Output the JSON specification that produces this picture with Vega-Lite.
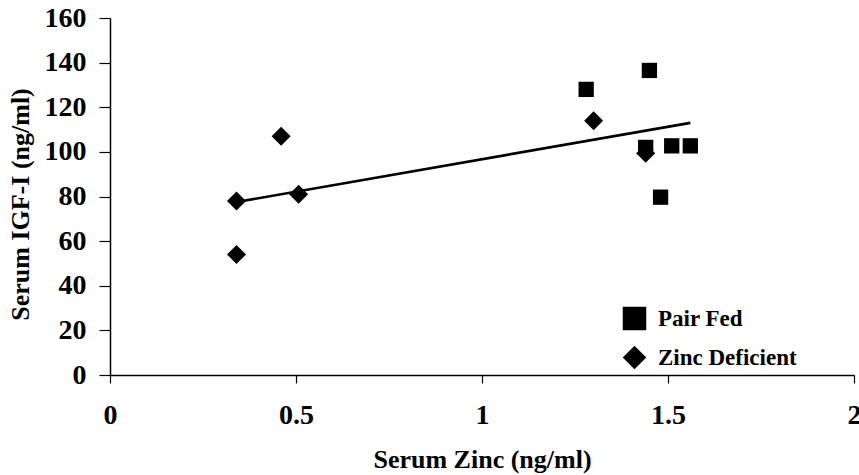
{
  "$schema": "https://vega.github.io/schema/vega-lite/v6.json",
  "width": 744,
  "height": 357,
  "autosize": {"type": "none"},
  "padding": {"left": 110, "top": 18, "right": 5, "bottom": 100},
  "background": "white",
  "config": {
    "view": {"stroke": null},
    "font": "Liberation Serif",
    "axis": {
      "domainColor": "black",
      "domainWidth": 1.5,
      "tickColor": "black",
      "tickWidth": 1.2,
      "grid": false,
      "labelFont": "Liberation Serif",
      "labelFontWeight": "bold",
      "labelFontSize": 28,
      "labelColor": "black",
      "titleFont": "Liberation Serif",
      "titleFontWeight": "bold",
      "titleFontSize": 26,
      "titleColor": "black"
    },
    "legend": {
      "labelFont": "Liberation Serif",
      "labelFontWeight": "bold",
      "labelFontSize": 23,
      "labelColor": "black",
      "padding": 0
    }
  },
  "datasets": {
    "points": [
      {"zinc": 1.28, "igf": 128, "group": "Pair Fed"},
      {"zinc": 1.45, "igf": 136.5, "group": "Pair Fed"},
      {"zinc": 1.44, "igf": 102, "group": "Pair Fed"},
      {"zinc": 1.51, "igf": 102.7, "group": "Pair Fed"},
      {"zinc": 1.56, "igf": 102.7, "group": "Pair Fed"},
      {"zinc": 1.48, "igf": 79.7, "group": "Pair Fed"},
      {"zinc": 0.34, "igf": 78, "group": "Zinc Deficient"},
      {"zinc": 0.34, "igf": 54, "group": "Zinc Deficient"},
      {"zinc": 0.46, "igf": 107, "group": "Zinc Deficient"},
      {"zinc": 0.507, "igf": 81, "group": "Zinc Deficient"},
      {"zinc": 1.30, "igf": 114, "group": "Zinc Deficient"},
      {"zinc": 1.44, "igf": 99.4, "group": "Zinc Deficient"}
    ],
    "trend": [
      {"zinc": 0.34, "igf": 77.5},
      {"zinc": 1.56, "igf": 113}
    ]
  },
  "layer": [
    {
      "data": {"name": "trend"},
      "mark": {"type": "line", "color": "black", "strokeWidth": 2.6},
      "encoding": {
        "x": {"field": "zinc", "type": "quantitative"},
        "y": {"field": "igf", "type": "quantitative"}
      }
    },
    {
      "data": {"name": "points"},
      "mark": {"type": "point", "filled": true, "color": "black", "opacity": 1},
      "encoding": {
        "x": {
          "field": "zinc",
          "type": "quantitative",
          "scale": {"domain": [0, 2], "nice": false},
          "axis": {
            "values": [0, 0.5, 1, 1.5, 2],
            "format": "~g",
            "title": "Serum Zinc (ng/ml)",
            "tickSize": 8,
            "labelBaseline": "alphabetic",
            "labelPadding": 40,
            "labelFlush": false,
            "titleBaseline": "alphabetic",
            "titleY": 92
          }
        },
        "y": {
          "field": "igf",
          "type": "quantitative",
          "scale": {"domain": [0, 160], "nice": false},
          "axis": {
            "values": [0, 20, 40, 60, 80, 100, 120, 140, 160],
            "title": "Serum IGF-I (ng/ml)",
            "tickSize": 11,
            "labelPadding": 13,
            "titleBaseline": "alphabetic",
            "titleX": -82,
            "titleY": 186
          }
        },
        "shape": {
          "field": "group",
          "type": "nominal",
          "scale": {"domain": ["Pair Fed", "Zinc Deficient"], "range": ["square", "diamond"]},
          "legend": {
            "title": null,
            "orient": "none",
            "legendX": 512,
            "legendY": 288,
            "rowPadding": 8,
            "labelOffset": 11,
            "symbolSize": 552,
            "encode": {
              "symbols": {
                "update": {
                  "size": {"signal": "datum.value === 'Pair Fed' ? 324 : 552"},
                  "fill": {"value": "black"},
                  "stroke": {"value": "black"},
                  "strokeWidth": {"value": 0}
                }
              }
            }
          }
        },
        "size": {
          "condition": {"test": "datum.group === 'Pair Fed'", "value": 234},
          "value": 361
        }
      }
    }
  ]
}
